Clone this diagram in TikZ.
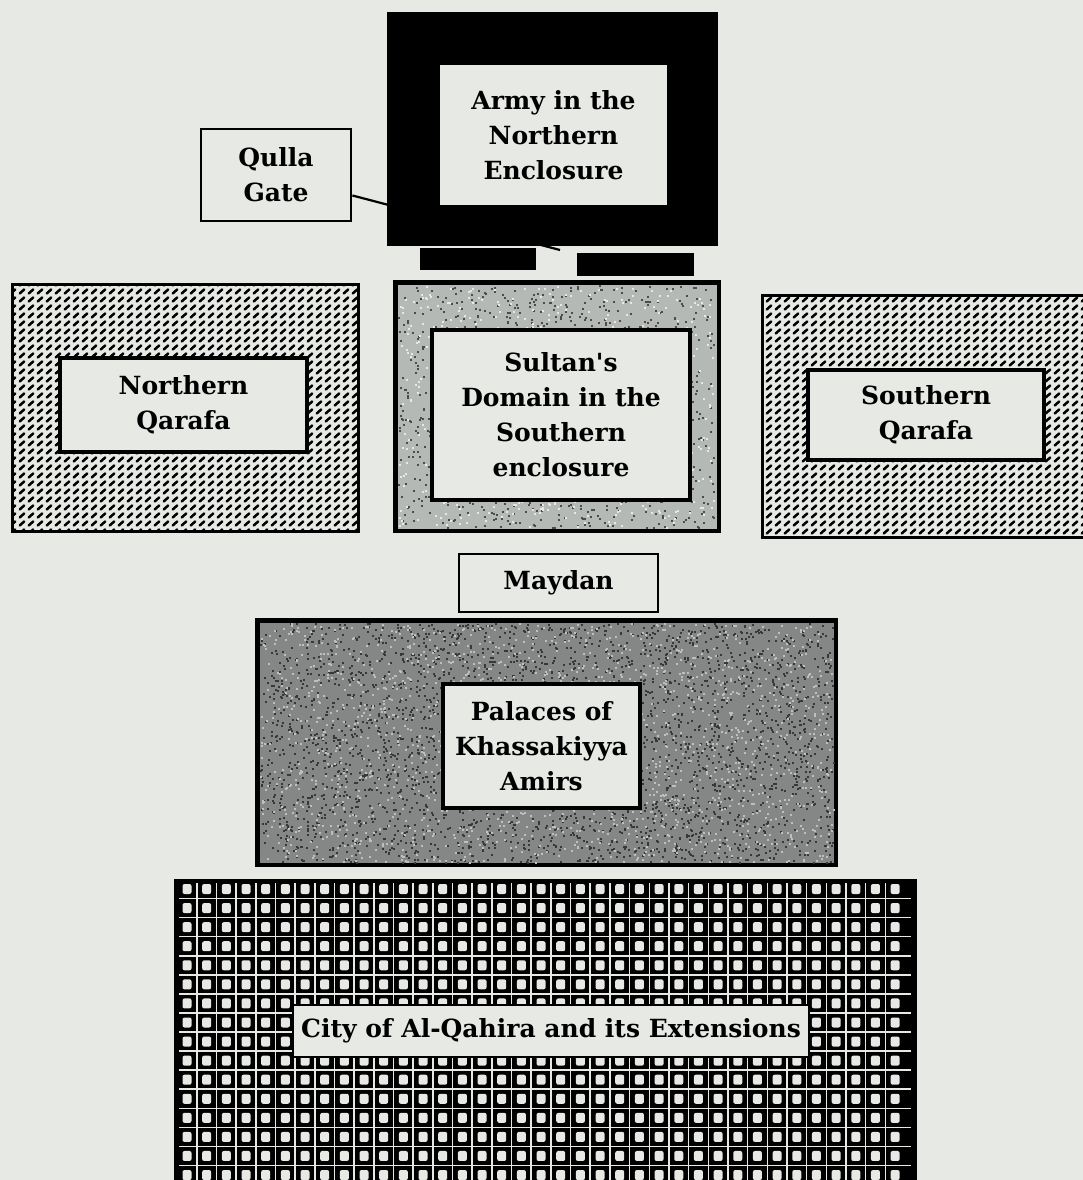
\documentclass[tikz,border=0pt]{standalone}
\usepackage{fontspec}
\setmainfont{DejaVu Serif}
\usetikzlibrary{patterns}
\definecolor{bgc}{RGB}{231,233,229}
\definecolor{sultfill}{RGB}{180,185,182}
\definecolor{palfill}{RGB}{132,135,134}
\pgfdeclarepatternformonly{qhatch}{\pgfpointorigin}{\pgfpoint{9pt}{7.5pt}}{\pgfpoint{9pt}{7.5pt}}{%
  \pgfsetlinewidth{2.7pt}\pgfsetroundcap
  \pgfpathmoveto{\pgfpoint{1.9pt}{1.6pt}}\pgfpathlineto{\pgfpoint{6.9pt}{5.9pt}}\pgfusepath{stroke}}
\newcommand\lbl{\fontsize{25}{35}\selectfont\bfseries}
\begin{document}
\begin{tikzpicture}[x=1pt,y=-1pt,
  outerbox/.style={draw=black, line width=3pt, inner sep=0pt},
  labelbox/.style={draw=black, line width=3.4pt, fill=bgc, inner sep=0pt, align=center, font=\lbl},
  barbox/.style={fill=black, inner sep=0pt},
  speck/.style={fill=black!70}]
\useasboundingbox (0,0) rectangle (1083,1180);
\fill[bgc] (0,0) rectangle (1083,1180);
\begin{scope}
\clip (0,0) rectangle (1083,1180);
\pgfmathsetseed{7}
% Army in the Northern Enclosure
\node[outerbox, fill=black, minimum width=328pt, minimum height=230pt] (army) at (552,129) {};
\node[labelbox, draw=none, minimum width=227pt, minimum height=140pt] (armyin) at (553.5,135) {Army in the\\Northern\\Enclosure};
\node[barbox, minimum width=116pt, minimum height=22pt] (bar1) at (478,259) {};
\node[barbox, minimum width=117pt, minimum height=23pt] (bar2) at (635.5,264) {};
\coordinate (gate) at (560,250);
% Qulla Gate
\node[labelbox, line width=2.8pt, minimum width=150pt, minimum height=92pt] (qg) at (276,175) {Qulla\\Gate};
\draw[line width=2.2pt] (qg.-15.6) -- (gate);
% Northern Qarafa
\node[outerbox, fill=bgc, pattern=qhatch, minimum width=346pt, minimum height=247pt] (nqo) at (185,407.5) {};
\node[labelbox, minimum width=247pt, minimum height=94pt] (nq) at (183.5,405) {Northern\\Qarafa};
% Sultan's Domain
\node[outerbox, fill=sultfill, minimum width=322pt, minimum height=247pt] (sdo) at (557,406.5) {};
\foreach \k in {1,...,1100}{
  \pgfmathsetmacro\rx{398+316*rnd}\pgfmathsetmacro\ry{285+242*rnd}
  \fill[speck] (\rx,\ry) rectangle ++(2,2);}
\foreach \k in {1,...,600}{
  \pgfmathsetmacro\rx{398+316*rnd}\pgfmathsetmacro\ry{285+242*rnd}
  \fill[bgc] (\rx,\ry) rectangle ++(2,2);}
\draw[line width=3pt] (sdo.north west) rectangle (sdo.south east);
\node[labelbox, minimum width=258pt, minimum height=170pt] (sd) at (561,415) {Sultan\textquotesingle s\\Domain in the\\Southern\\enclosure};
% Southern Qarafa
\node[outerbox, fill=bgc, pattern=qhatch, minimum width=333pt, minimum height=242pt] (sqo) at (928.5,416) {};
\node[labelbox, minimum width=236pt, minimum height=90pt] (sq) at (926,415) {Southern\\Qarafa};
% Maydan
\node[labelbox, line width=2.8pt, minimum width=199pt, minimum height=58pt] (may) at (558.5,583) {Maydan};
% Palaces
\node[outerbox, fill=palfill, minimum width=577pt, minimum height=243pt] (palo) at (546.5,742.5) {};
\foreach \k in {1,...,3200}{
  \pgfmathsetmacro\rx{260+573*rnd}\pgfmathsetmacro\ry{623+239*rnd}
  \fill[black!78] (\rx,\ry) rectangle ++(2,2);}
\foreach \k in {1,...,1800}{
  \pgfmathsetmacro\rx{260+573*rnd}\pgfmathsetmacro\ry{623+239*rnd}
  \fill[black!25] (\rx,\ry) rectangle ++(2,2);}
\draw[line width=3pt] (palo.north west) rectangle (palo.south east);
\node[labelbox, minimum width=197pt, minimum height=124pt] (pal) at (541.5,746) {Palaces of\\Khassakiyya\\Amirs};
% City of Al-Qahira
\node[outerbox, fill=black, minimum width=740pt, minimum height=330pt] (cityo) at (545,1045) {};
\foreach \i in {0,...,35}
  \draw[bgc, line width=1.5pt] ({187+19.67*(\i+0.5)},883) -- ({187+19.67*(\i+0.5)},1185);
\foreach \j in {0,...,15}
  \draw[bgc, line width=1.5pt] (179,{889+19.07*(\j+0.5)}) -- (911,{889+19.07*(\j+0.5)});
\foreach \i in {0,...,36}
  \foreach \j in {0,...,15}
    \fill[bgc, rounded corners=2pt] ({187+19.67*\i-4.5},{889+19.07*\j-5}) rectangle ++(9,10);
\node[labelbox, line width=2.2pt, minimum width=516pt, minimum height=52pt] (city) at (551,1031) {City of Al-Qahira and its Extensions};
\end{scope}
\end{tikzpicture}
\end{document}
